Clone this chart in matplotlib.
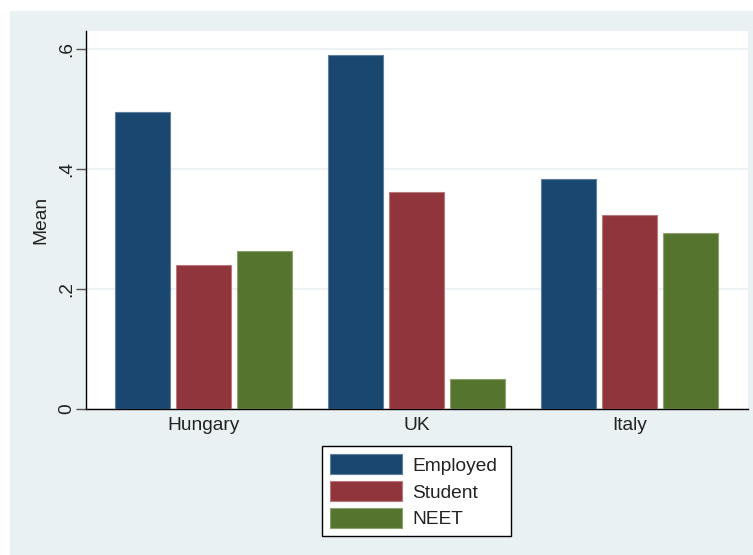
import matplotlib
matplotlib.use("Agg")
import matplotlib.pyplot as plt
import numpy as np
from matplotlib.patches import Rectangle

countries = ["Hungary", "UK", "Italy"]
series = ["Employed", "Student", "NEET"]
employed = [0.495, 0.590, 0.384]
student = [0.240, 0.361, 0.323]
neet = [0.264, 0.050, 0.293]
yticks = [0, 0.2, 0.4, 0.6]
yticklabels = ["0", ".2", ".4", ".6"]

colors = ["#1a476f", "#90353b", "#55752f"]
edges = ["#5f7f9c", "#b7797d", "#8ea270"]

plt.rcParams["font.family"] = ["Liberation Sans", "DejaVu Sans"]

W, H = 753, 555
FS = 13.8
fig = plt.figure(figsize=(W / 100, H / 100), dpi=100)
fig.patch.set_facecolor("white")
fig.add_artist(Rectangle((10 / W, 0), 1 - 10 / W, (H - 11) / H,
                         transform=fig.transFigure, facecolor="#eaf1f3",
                         edgecolor="none", zorder=0))

ax = fig.add_axes([86 / W, (H - 409) / H, 662 / W, 378 / H])
ax.set_facecolor("white")

x = np.arange(len(countries))
step = 0.2864
width = 0.262
for i, (vals, c, ec, lab) in enumerate(zip([employed, student, neet], colors, edges, series)):
    ax.bar(x + (i - 1) * step, vals, width=width, color=c, edgecolor=ec,
           linewidth=0.8, label=lab, zorder=3)

ax.set_xlim(-0.552, 2.556)
ax.set_ylim(0, 0.63)
ax.set_xticks(x)
ax.set_xticklabels(countries, fontsize=FS, color="#222222")
ax.tick_params(axis="x", length=0, pad=6)
ax.set_yticks(yticks)
ax.set_yticklabels(yticklabels, fontsize=FS, rotation=90, va="center", color="#222222")
ax.tick_params(axis="y", length=7, width=1, color="#555555", pad=1)
ax.yaxis.grid(True, color="#eaf1f3", linewidth=1.2, zorder=0)
ax.set_axisbelow(True)
for s in ["top", "right"]:
    ax.spines[s].set_visible(False)
for s in ["left", "bottom"]:
    ax.spines[s].set_color("black")
    ax.spines[s].set_linewidth(1.0)
ax.set_ylabel("Mean", fontsize=FS, color="#222222", labelpad=6)

leg = fig.legend(loc="upper left",
                 bbox_to_anchor=(322 / W, 1 - 535 / H, 189 / W, 89 / H),
                 mode="expand",
                 bbox_transform=fig.transFigure, fontsize=FS, frameon=True,
                 fancybox=False, edgecolor="black", facecolor="white",
                 handlelength=3.75, handleheight=1.25, labelspacing=0.33,
                 handletextpad=0.55, borderpad=0.42, borderaxespad=0)
leg.get_frame().set_linewidth(1.0)
leg.get_frame().set_alpha(1)
for t in leg.get_texts():
    t.set_color("#222222")

fig.savefig("out.png", dpi=100)
